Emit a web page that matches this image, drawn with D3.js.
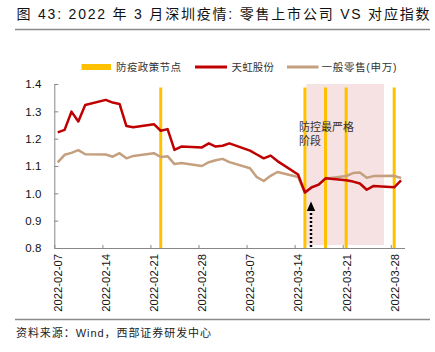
<!DOCTYPE html>
<html><head><meta charset="utf-8">
<script src="https://cdn.jsdelivr.net/npm/d3@7"></script>
<style>
body{margin:0;background:#fff;}
svg{display:block;font-family:"Liberation Sans",Arial,"Noto Sans CJK SC",sans-serif;}
.cjk{font-family:"Liberation Sans","Noto Sans CJK SC",sans-serif;}
</style></head><body>
<svg id="c" width="435" height="352"></svg>
<script>
const dates = ["2022-02-07","2022-02-08","2022-02-09","2022-02-10","2022-02-11",
"2022-02-14","2022-02-15","2022-02-16","2022-02-17","2022-02-18",
"2022-02-21","2022-02-22","2022-02-23","2022-02-24","2022-02-25",
"2022-02-28","2022-03-01","2022-03-02","2022-03-03","2022-03-04",
"2022-03-07","2022-03-08","2022-03-09","2022-03-10","2022-03-11",
"2022-03-14","2022-03-15","2022-03-16","2022-03-17","2022-03-18",
"2022-03-21","2022-03-22","2022-03-23","2022-03-24","2022-03-25",
"2022-03-28","2022-03-29"];
const tianhong = [1.223,1.232,1.299,1.263,1.323,
1.342,1.332,1.327,1.246,1.242,
1.253,1.229,1.235,1.159,1.171,
1.168,1.183,1.171,1.174,1.183,
1.156,1.142,1.128,1.138,1.118,
1.069,1.003,1.022,1.032,1.055,
1.048,1.043,1.036,1.013,1.027,
1.022,1.047];
const retail = [1.113,1.141,1.148,1.158,1.143,
1.142,1.134,1.147,1.128,1.137,
1.147,1.133,1.136,1.107,1.111,
1.100,1.114,1.121,1.126,1.114,
1.092,1.059,1.045,1.064,1.078,
1.060,1.002,1.023,1.032,1.053,
1.063,1.074,1.076,1.057,1.063,
1.064,1.056];
const policyDates = ["2022-02-22","2022-03-15","2022-03-18","2022-03-21","2022-03-28"];
const bandRange = ["2022-03-15T17:00","2022-03-27T00:00"];
const arrowDate = "2022-03-16";
const tickDates = ["2022-02-07","2022-02-14","2022-02-21","2022-02-28","2022-03-07","2022-03-14","2022-03-21","2022-03-28"];
const yTicks = [0.8,0.9,1.0,1.1,1.2,1.3,1.4];
const legendLabels = ["防疫政策节点","天虹股份","一般零售(申万)"];
const titleText = "图 43: 2022 年 3 月深圳疫情: 零售上市公司 VS 对应指数";
const sourceText = "资料来源：Wind，西部证券研发中心";
const noteLines = ["防控最严格","阶段"];

const C_RED="#C00000", C_TAN="#C4A07E", C_ORG="#FFC000", C_BAND="#F6E2E3";
const parse = s => new Date(s.length>10 ? s+"Z" : s+"T00:00:00Z");
const mid = s => new Date(parse(s).getTime()+12*3600e3);

const svg = d3.select("#c");
const x = d3.scaleUtc().domain([parse("2022-02-07"), parse("2022-03-30")]).range([54.3, 404.5]);
const y = d3.scaleLinear().domain([0.8,1.4]).range([248,84]);

// title
svg.append("text").attr("class","cjk").attr("x",16.5).attr("y",18.5).attr("font-size",14)
  .attr("fill","#111").attr("textLength",413).attr("lengthAdjust","spacing").text(titleText);
svg.append("line").attr("x1",15).attr("x2",430).attr("y1",29.5).attr("y2",29.5).attr("stroke","#8a8a8a").attr("stroke-width",1.3);

// band
svg.append("rect").attr("x",x(parse(bandRange[0]))).attr("y",84)
  .attr("width",x(parse(bandRange[1]))-x(parse(bandRange[0]))).attr("height",245-84).attr("fill",C_BAND);

// policy lines
svg.selectAll(".pl").data(policyDates).join("line").attr("class","pl")
  .attr("x1",d=>x(mid(d))).attr("x2",d=>x(mid(d))).attr("y1",87.5).attr("y2",248)
  .attr("stroke",C_ORG).attr("stroke-width",3);

// axes
const xAxis = d3.axisBottom(x).tickValues(tickDates.map(parse)).tickSizeInner(-3).tickSizeOuter(0)
  .tickFormat(d3.utcFormat("%Y-%m-%d"));
const gx = svg.append("g").attr("transform","translate(0,248)").call(xAxis);
gx.select(".domain").attr("stroke","#888");
gx.selectAll(".tick line").attr("stroke","#888");
gx.selectAll(".tick text").attr("transform","rotate(-90)").attr("text-anchor","end")
  .attr("x",-6).attr("y",3.4).attr("dy","0.35em").attr("font-size",11.3).attr("fill","#111");

const yAxis = d3.axisLeft(y).tickValues(yTicks).tickSizeInner(-4).tickSizeOuter(0).tickPadding(13)
  .tickFormat(d3.format(".1f"));
const gy = svg.append("g").attr("transform","translate(54.3,0)").call(yAxis);
gy.select(".domain").attr("stroke","#888");
gy.selectAll(".tick line").attr("stroke","#888");
gy.selectAll(".tick text").attr("font-size",11.5).attr("fill","#111");

// lines
const line = vals => d3.line().x((d,i)=>x(mid(dates[i]))).y(d=>y(d))(vals);
svg.append("path").attr("d",line(retail)).attr("fill","none").attr("stroke",C_TAN).attr("stroke-width",2.5).attr("stroke-linejoin","round");
svg.append("path").attr("d",line(tianhong)).attr("fill","none").attr("stroke",C_RED).attr("stroke-width",2.5).attr("stroke-linejoin","round");

// arrow
const ax = x(mid(arrowDate))-0.8;
svg.append("line").attr("x1",ax).attr("x2",ax).attr("y1",247).attr("y2",210)
  .attr("stroke","#000").attr("stroke-width",2.5).attr("stroke-dasharray","2,2");
svg.append("path").attr("d",`M${ax-4.2},211 L${ax},201.5 L${ax+4.2},211 Z`).attr("fill","#000");

// note
svg.append("text").attr("class","cjk").attr("x",299).attr("y",131).attr("font-size",11).attr("fill","#333")
  .selectAll("tspan").data(noteLines).join("tspan").attr("x",299).attr("dy",(d,i)=>i?14:0).text(d=>d);

// legend
const lg = svg.append("g").attr("font-size",10.5).attr("fill","#333");
lg.append("line").attr("x1",81.5).attr("x2",111).attr("y1",67).attr("y2",67).attr("stroke",C_ORG).attr("stroke-width",6);
lg.append("text").attr("class","cjk").attr("x",116).attr("y",71).attr("textLength",65).attr("lengthAdjust","spacing").text(legendLabels[0]);
lg.append("line").attr("x1",195).attr("x2",227).attr("y1",67).attr("y2",67).attr("stroke",C_RED).attr("stroke-width",3);
lg.append("text").attr("class","cjk").attr("x",231.5).attr("y",71).attr("textLength",42.5).attr("lengthAdjust","spacing").text(legendLabels[1]);
lg.append("line").attr("x1",287).attr("x2",318.5).attr("y1",67).attr("y2",67).attr("stroke",C_TAN).attr("stroke-width",3);
lg.append("text").attr("class","cjk").attr("x",321.5).attr("y",71).attr("textLength",75).attr("lengthAdjust","spacing").text(legendLabels[2]);

// bottom
svg.append("line").attr("x1",15).attr("x2",430).attr("y1",319.5).attr("y2",319.5).attr("stroke","#8a8a8a").attr("stroke-width",1.3);
svg.append("text").attr("class","cjk").attr("x",16).attr("y",337).attr("font-size",11).attr("fill","#222")
  .attr("textLength",195).attr("lengthAdjust","spacing").text(sourceText);
</script></body></html>
